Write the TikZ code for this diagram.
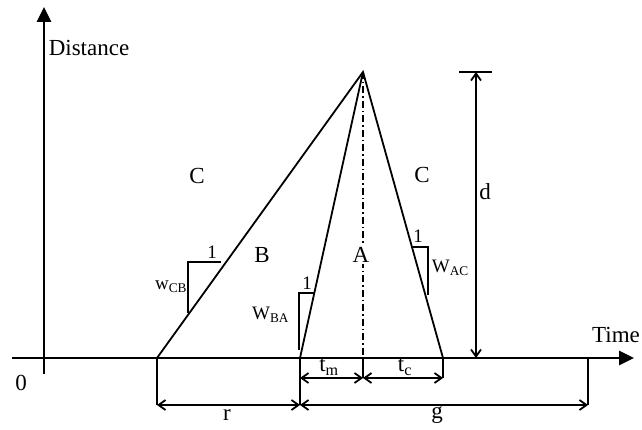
\documentclass[tikz,border=0pt]{standalone}
\usepackage{fontspec}
\setmainfont{Liberation Serif}
\usetikzlibrary{arrows.meta}
\begin{document}
\begin{tikzpicture}[x=1pt,y=-1pt,line width=1.8pt,line cap=butt,
  lbl/.style={font=\fontsize{23}{26}\selectfont,inner sep=0pt},
  small/.style={font=\fontsize{19}{21}\selectfont,inner sep=0pt},
  axis/.style={line width=2.6pt,-{Triangle[length=15pt,width=14pt]}},
  dim/.style={line width=1.8pt,{Straight Barb[length=7pt,width=10pt]}-{Straight Barb[length=7pt,width=10pt]}},
  dashdot/.style={line width=1.8pt,dash pattern=on 7pt off 3pt on 1.5pt off 3pt}]
\useasboundingbox (0,0) rectangle (642,430);
% key points
\coordinate (yb) at (44,374);
\coordinate (yt) at (44,7);
\coordinate (xl) at (12,358);
\coordinate (xr) at (634,358);
\coordinate (Bb) at (157,358);
\coordinate (Ab) at (300,358);
\coordinate (Cb) at (443,358);
\coordinate (Gb) at (588,358);
\coordinate (Mb) at (363,358);
\coordinate (P) at (363,72);
\coordinate (rB) at (157,405);
\coordinate (rA) at (300,405);
\coordinate (rG) at (588,405);
\coordinate (tA) at (300,378);
\coordinate (tM) at (363,378);
\coordinate (tC) at (443,378);
\coordinate (dT) at (476,72);
\coordinate (dB) at (476,358);
\coordinate (dL) at (459,72);
\coordinate (dR) at (492,72);
% axes
\draw[axis] (yb) -- (yt);
\draw[axis] (xl) -- (xr);
% triangles
\draw (Bb) -- (P) -- (Cb);
\draw (Ab) -- (P);
\draw[dashdot] (P) -- (Mb);
% ticks below axis
\draw (Bb) -- (rB);
\draw (Ab) -- (rA);
\draw (Cb) -- (tC);
\draw (Mb) -- (tM);
\draw (Gb) -- (rG);
% dimensions
\draw[dim] (tA) -- (tM);
\draw[dim] (tM) -- (tC);
\draw[dim] (rB) -- (rA);
\draw[dim] (rA) -- (rG);
\draw (dL) -- (dR);
\draw[dim] (dT) -- (dB);
% slope triangles
\coordinate (s1a) at (188,313); \coordinate (s1b) at (188,262); \coordinate (s1c) at (221,262);
\draw (s1a) -- (s1b) -- (s1c);
\coordinate (s2a) at (299,350); \coordinate (s2b) at (299,293); \coordinate (s2c) at (315,293);
\draw (s2a) -- (s2b) -- (s2c);
\coordinate (s3a) at (413,247); \coordinate (s3b) at (428,247); \coordinate (s3c) at (428,295);
\draw (s3a) -- (s3b) -- (s3c);
% labels
\node[lbl] (dist) at (89,48) {Distance};
\node[lbl] (time) at (616,335) {Time};
\node[lbl] (zero) at (21,383) {0};
\node[lbl] (c1) at (197,176) {C};
\node[lbl] (c2) at (422,175) {C};
\node[lbl] (b) at (262,255) {B};
\node[lbl,fill=white,inner sep=1pt] (a) at (361,255) {A};
\node[lbl] (d) at (485,192) {d};
\node[lbl] (tm) at (329,367) {t\textsubscript{m}};
\node[lbl] (tc) at (405,367) {t\textsubscript{c}};
\node[lbl] (r) at (227,415) {r};
\node[lbl] (g) at (437,415) {g};
\node[small] (one1) at (212,252) {1};
\node[small] (one2) at (307,283) {1};
\node[small] (one3) at (418,236) {1};
\node[small,anchor=east] (wcb) at (188,287) {w\textsubscript{CB}};
\node[small,anchor=east] (wba) at (290,315) {W\textsubscript{BA}};
\node[small,anchor=west] (wac) at (431,268) {W\textsubscript{AC}};
\end{tikzpicture}
\end{document}
